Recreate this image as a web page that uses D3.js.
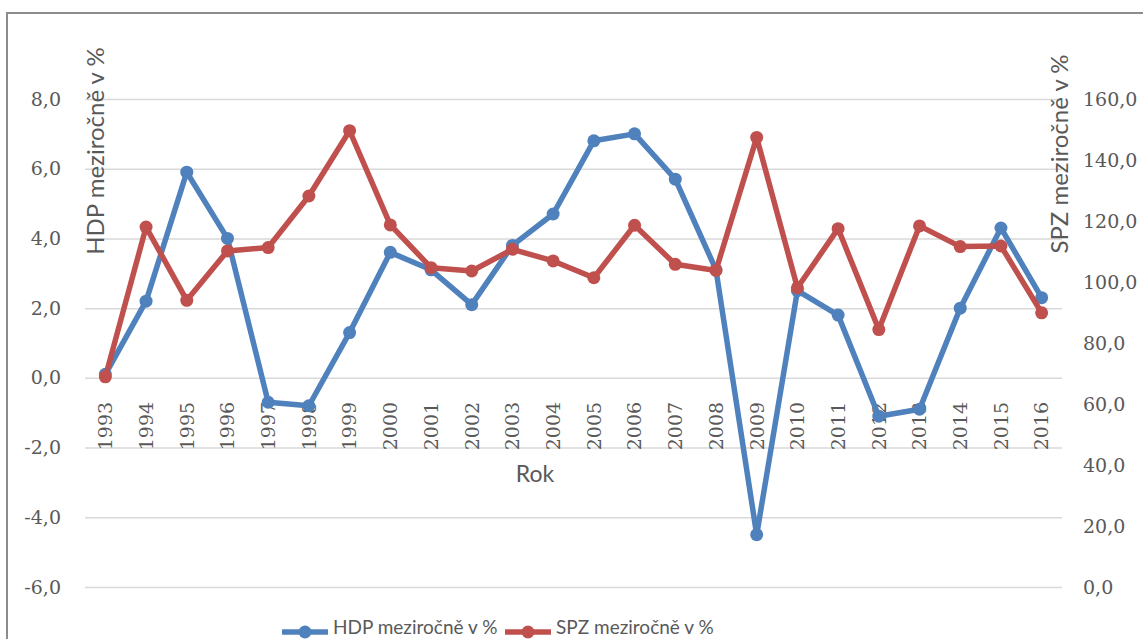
<!DOCTYPE html>
<html>
<head>
<meta charset="utf-8">
<script src="https://cdn.jsdelivr.net/npm/d3@7"></script>
<style>
  html, body { margin: 0; padding: 0; background: #ffffff; }
  svg { display: block; }
</style>
</head>
<body>
<svg id="chart" width="1143" height="639"></svg>
<script>
// ---- data ----
const years = ["1993","1994","1995","1996","1997","1998","1999","2000","2001","2002","2003","2004",
               "2005","2006","2007","2008","2009","2010","2011","2012","2013","2014","2015","2016"];
const hdp = [0.1, 2.2, 5.9, 4.0, -0.7, -0.8, 1.3, 3.6, 3.1, 2.1, 3.8, 4.7,
             6.8, 7.0, 5.7, 3.1, -4.5, 2.5, 1.8, -1.1, -0.9, 2.0, 4.3, 2.3];
const spz = [68.9, 118.0, 94.0, 110.2, 111.3, 128.2, 149.6, 118.7, 104.7, 103.6, 110.7, 106.9,
             101.4, 118.6, 105.8, 103.8, 147.4, 98.1, 117.5, 84.4, 118.4, 111.6, 111.8, 89.9];
const leftTicks = [-6, -4, -2, 0, 2, 4, 6, 8];
const rightTicks = [0, 20, 40, 60, 80, 100, 120, 140, 160];
const seriesNames = ["HDP meziročně v %", "SPZ meziročně v %"];
const leftTitle = "HDP meziročně v %";
const rightTitle = "SPZ meziročně v %";
const xTitle = "Rok";

// ---- layout ----
const W = 1143, H = 639;
const plot = { left: 85, right: 1062, top: 99, bottom: 587 };
const blue = "#4f81bd", red = "#c0504d", textCol = "#595959", gridCol = "#d9d9d9";
const tickFont = "'DejaVu Serif', serif";
const titleFont = "Lato, 'Open Sans', sans-serif";

const svg = d3.select("#chart");
svg.append("rect").attr("width", W).attr("height", H).attr("fill", "#fff");

// outer border (left + top)
svg.append("path")
  .attr("d", `M7,${H} L7,13 L${W},13`)
  .attr("fill", "none").attr("stroke", "#8c8c8c").attr("stroke-width", 2);

const x = d3.scaleBand().domain(years).range([plot.left, plot.right]);
const yL = d3.scaleLinear().domain([-6, 8]).range([plot.bottom, plot.top]);
const yR = d3.scaleLinear().domain([0, 160]).range([plot.bottom, plot.top]);
const cx = d => x(d) + x.bandwidth() / 2;
const fmt = v => d3.format(".1f")(v).replace(".", ",").replace("−", "-");

// gridlines
const grid = svg.append("g").attr("transform", `translate(${plot.left},0)`)
  .call(d3.axisLeft(yL).tickValues(leftTicks).tickSize(-(plot.right - plot.left)).tickFormat(""));
grid.select(".domain").remove();
grid.selectAll("line").attr("stroke", gridCol).attr("stroke-width", 1.5);

// left axis labels
const gl = svg.append("g").attr("transform", `translate(${plot.left},0)`)
  .call(d3.axisLeft(yL).tickValues(leftTicks).tickSize(0).tickPadding(24).tickFormat(fmt));
gl.select(".domain").remove();
gl.selectAll("text").attr("font-family", tickFont).attr("font-size", 19).attr("fill", textCol);

// right axis labels
const gr = svg.append("g").attr("transform", `translate(${plot.right},0)`)
  .call(d3.axisRight(yR).tickValues(rightTicks).tickSize(0).tickPadding(21).tickFormat(fmt));
gr.select(".domain").remove();
gr.selectAll("text").attr("font-family", tickFont).attr("font-size", 19).attr("fill", textCol);

// x axis labels (rotated, near the zero line)
const gx = svg.append("g").attr("transform", `translate(0,${yL(0)})`)
  .call(d3.axisBottom(x).tickSize(0));
gx.select(".domain").remove();
gx.selectAll("text")
  .attr("font-family", tickFont).attr("font-size", 19).attr("fill", textCol)
  .attr("text-anchor", "end")
  .attr("transform", "translate(0,24) rotate(-90)")
  .attr("x", 0).attr("y", 0).attr("dy", "0.36em");

// axis titles
svg.append("text").text(xTitle)
  .attr("x", 535).attr("y", 482).attr("text-anchor", "middle")
  .attr("font-family", titleFont).attr("font-size", 23).attr("fill", textCol);
svg.append("text").text(leftTitle)
  .attr("transform", "translate(104,151) rotate(-90)").attr("text-anchor", "middle")
  .attr("font-family", titleFont).attr("font-size", 24).attr("fill", textCol);
svg.append("text").text(rightTitle)
  .attr("transform", "translate(1068,154) rotate(-90)").attr("text-anchor", "middle")
  .attr("font-family", titleFont).attr("font-size", 24).attr("fill", textCol);

// series
const series = [
  { values: hdp, scale: yL, color: blue },
  { values: spz, scale: yR, color: red }
];
series.forEach(s => {
  const line = d3.line().x((d, i) => cx(years[i])).y(d => s.scale(d));
  svg.append("path").datum(s.values)
    .attr("d", line).attr("fill", "none").attr("stroke", s.color)
    .attr("stroke-width", 5.5).attr("stroke-linejoin", "round").attr("stroke-linecap", "round");
  svg.append("g").selectAll("circle").data(s.values).join("circle")
    .attr("cx", (d, i) => cx(years[i])).attr("cy", d => s.scale(d))
    .attr("r", 6.5).attr("fill", s.color);
});

// legend
const legendItems = [
  { name: seriesNames[0], color: blue, x0: 282 },
  { name: seriesNames[1], color: red, x0: 505 }
];
const ly = 632;
legendItems.forEach(it => {
  const g = svg.append("g");
  g.append("line").attr("x1", it.x0).attr("x2", it.x0 + 46).attr("y1", ly).attr("y2", ly)
    .attr("stroke", it.color).attr("stroke-width", 5.5);
  g.append("circle").attr("cx", it.x0 + 23).attr("cy", ly).attr("r", 6.5).attr("fill", it.color);
  g.append("text").text(it.name).attr("x", it.x0 + 51).attr("y", 634)
    .attr("font-family", titleFont).attr("font-size", 19).attr("fill", textCol);
});
</script>
</body>
</html>
